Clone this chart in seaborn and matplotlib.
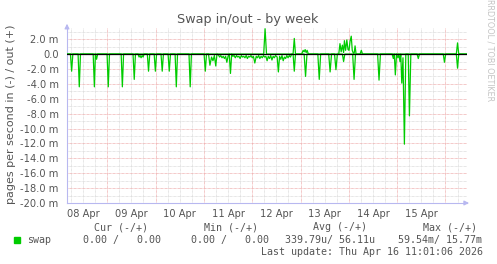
import numpy as np
import pandas as pd
import matplotlib
matplotlib.use("Agg")
import matplotlib.pyplot as plt
import seaborn as sns
from matplotlib.ticker import FixedLocator, FuncFormatter

# ---- data (hours since 08 Apr 00:00) ----
in_hours = [
    4.0, 5.7, 6.3, 6.9, 9.5, 10.1, 10.7, 17.0, 17.6, 18.1, 18.7, 19.2,
    23.9, 24.5, 25.1, 30.9, 31.5, 32.1, 36.8, 37.4, 38.0,
    39.3, 39.8, 40.3, 40.8, 41.3, 41.8, 42.3,
    43.9, 44.5, 45.1, 47.3, 47.9, 48.5, 50.7, 51.3, 51.9, 54.2, 54.8, 55.4,
    57.7, 58.3, 58.9, 64.6, 65.2, 65.8, 72.1, 72.7, 73.3,
    74.3, 75.0, 75.8, 76.5, 77.2, 77.9, 78.5,
    79.2, 79.8, 80.4, 81.0, 81.6, 82.2, 82.8, 83.4, 84.0, 84.6, 85.2, 85.8,
    86.4, 87.0, 87.6, 88.2, 88.8, 89.4, 90.0, 90.6, 91.2, 91.8, 92.4, 93.0,
    93.6, 94.2, 94.8, 95.4, 96.0, 96.6, 97.3, 98.0, 98.6, 99.2, 99.8, 100.4,
    101.0, 101.6, 102.2, 102.8, 103.4, 104.0, 104.6, 105.2, 105.8, 106.4,
    107.0, 107.6, 108.4, 109.0, 109.6, 110.2, 110.8, 111.4, 112.0, 112.6,
    113.2, 113.8, 114.4, 115.0, 115.6, 116.3, 116.9, 117.5,
    121.8, 122.5, 123.2, 128.6, 129.3, 130.0, 134.0, 134.7, 135.4,
    136.9, 137.6, 138.3, 140.8, 141.4, 142.0, 145.9, 146.6, 147.3,
    158.3, 159.0, 159.7,
    165.5, 166.1, 166.6, 167.1, 167.7, 168.4, 168.9, 169.4, 169.8, 170.3,
    170.9, 171.6, 172.3, 173.5, 174.1, 174.8,
    177.9, 178.5, 179.1, 190.9, 191.5, 192.1, 197.4, 198.0, 198.6, 202.7,
]
in_values = [
    0, 0, -2.3, 0, 0, -4.4, 0, 0, -4.4, 0, -0.7, 0,
    0, -4.4, 0, 0, -4.4, 0, 0, -3.4, 0,
    0, -0.4, -0.2, -0.5, -0.2, -0.4, 0,
    0, -2.3, 0, 0, -2.3, 0, 0, -2.3, 0, 0, -2.3, 0,
    0, -4.4, 0, 0, -4.4, 0, 0, -2.3, 0,
    0, -1.5, -0.4, -0.9, -0.2, -1.6, 0,
    -0.1, -0.4, -0.2, -0.5, -0.3, -0.6, -0.3, -1.1, -0.3, 0, -2.6, 0,
    -0.3, -0.2, -0.5, -0.2, -0.4, -0.3, -0.6, -0.2, -0.4, -0.3, -0.5, -0.2,
    -0.6, -0.3, -0.4, -0.2, -0.5, -0.3, -1.2, -0.3, -0.5, -0.2, -0.6, -0.3,
    -0.5, -0.2, -0.4, -0.3, -0.9, -0.3, -0.6, -0.2, -0.8, -0.3,
    -0.5, -0.2, -0.4, -2.4, -0.3, -0.7, -0.2, -0.9, -0.4, -0.6,
    -0.2, -0.5, -0.2, -0.4, 0, 0, -2.3, 0,
    0, -3.0, 0, 0, -3.4, 0, 0, -2.4, 0,
    0, -2.1, 0, 0, -1.0, 0, 0, -3.4, 0,
    0, -3.5, 0,
    0, -0.6, 0, -2.8, 0, -0.5, 0, -1.0, 0, -3.9,
    -0.5, -12.1, 0, 0, -8.3, 0,
    0, -0.6, 0, 0, -1.1, 0, 0, -1.9, 0, 0,
]
out_hours = [
    4.0, 101.7, 102.4, 103.1, 116.3, 116.9, 117.5,
    120.6, 121.3, 121.8, 122.3, 122.8, 123.3, 123.9,
    139.0, 139.6, 140.2, 140.8, 141.4, 141.8, 142.4, 143.0, 143.6, 144.1,
    144.6, 145.2, 145.7, 146.1, 146.6, 147.1, 147.6,
    149.6, 150.2, 150.8, 197.4, 198.0, 198.6, 202.7,
]
out_values = [
    0, 0, 3.4, 0, 0, 2.1, 0,
    0, 0.5, 0.3, 0.6, 0.2, 0.5, 0,
    0, 1.4, 0.3, 1.2, 0.2, 1.8, 0.5, 1.9, 0.6, 0.5,
    1.7, 2.4, 0.5, 0.2, 0, 1.1, 0,
    0, 0.5, 0, 0, 1.5, 0, 0,
]
assert len(in_hours) == len(in_values)
assert len(out_hours) == len(out_values)

day_ticks = [12, 36, 60, 84, 108, 132, 156, 180]
day_labels = ["08 Apr", "09 Apr", "10 Apr", "11 Apr",
              "12 Apr", "13 Apr", "14 Apr", "15 Apr"]
y_ticks = list(range(-20, 3, 2))

legend_heads = ["Cur (-/+)", "Min (-/+)", "Avg (-/+)", "Max (-/+)"]
legend_vals = ["0.00 /   0.00", "0.00 /   0.00", "339.79u/ 56.11u", "59.54m/ 15.77m"]
series_name = "swap"
last_update = "Last update: Thu Apr 16 11:01:06 2026"

# ---- style ----
sns.set_style("white")
plt.rcParams["font.family"] = ["DejaVu Sans"]

W, H = 497, 264
fig = plt.figure(figsize=(W / 100, H / 100), dpi=100)
fig.patch.set_facecolor("white")
ax = fig.add_axes([67 / W, 61 / H, 400 / W, 175 / H])
ax.set_facecolor("white")

XMIN, XMAX = 4.0, 202.7
YMIN, YMAX = -20.0, 3.5
ax.set_xlim(XMIN, XMAX)
ax.set_ylim(YMIN, YMAX)

green = "#00cc00"
red_grid = "#eda6a6"
grey_grid = "#d8d8d8"
dots = (0, (0.72, 0.72))

# grid
for h in np.arange(6, XMAX, 6):
    if h % 24 != 0:
        ax.axvline(h, color=grey_grid, lw=0.65, ls=dots, zorder=1)
for h in np.arange(24, XMAX, 24):
    ax.axvline(h, color=red_grid, lw=0.65, ls=dots, zorder=1.5)
for v in np.arange(-19, YMAX, 2):
    ax.axhline(v, color=grey_grid, lw=0.65, ls=dots, zorder=1)
for v in y_ticks:
    if v != -20:
        ax.axhline(v, color=red_grid, lw=0.65, ls=dots, zorder=1.5)

# data
df_in = pd.DataFrame({"hour": in_hours, "value": in_values})
df_out = pd.DataFrame({"hour": out_hours, "value": out_values})
sns.lineplot(data=df_in, x="hour", y="value", ax=ax, color=green,
             lw=0.9, estimator=None, zorder=3)
sns.lineplot(data=df_out, x="hour", y="value", ax=ax, color=green,
             lw=0.9, estimator=None, zorder=3)
ax.axhline(0, color="black", lw=0.9, zorder=4)

# axes
for s in ["top", "right"]:
    ax.spines[s].set_visible(False)
axis_col = "#b8b8f0"
ax.spines["left"].set_color(axis_col)
ax.spines["bottom"].set_color(axis_col)
ax.spines["left"].set_linewidth(0.8)
ax.spines["bottom"].set_linewidth(0.8)
ax.annotate("", xy=(0, 1.04), xytext=(0, 0.99), xycoords="axes fraction",
            arrowprops=dict(arrowstyle="-|>", color=axis_col, lw=0.8,
                            mutation_scale=7), annotation_clip=False)
ax.annotate("", xy=(1.012, 0), xytext=(0.99, 0), xycoords="axes fraction",
            arrowprops=dict(arrowstyle="-|>", color=axis_col, lw=0.8,
                            mutation_scale=7), annotation_clip=False)

ax.xaxis.set_major_locator(FixedLocator(day_ticks))
ax.set_xticklabels(day_labels)
ax.yaxis.set_major_locator(FixedLocator(y_ticks))
ax.yaxis.set_major_formatter(FuncFormatter(
    lambda v, p: "0.0" if abs(v) < 1e-9 else f"{v:.1f} m"))
ax.tick_params(axis="both", length=0, labelsize=7.1, colors="#555555")
ax.tick_params(axis="y", pad=6)
ax.tick_params(axis="x", pad=4)
ax.set_xlabel("")
ax.set_ylabel("")

# texts
txt = "#555555"
fig.text(248 / W, 1 - 19.5 / H, "Swap in/out - by week", ha="center",
         va="center", fontsize=9.2, color=txt)
fig.text(11 / W, 1 - 114 / H, "pages per second in (-) / out (+)",
         rotation=90, ha="center", va="center", fontsize=8.0, color=txt)
fig.text(490 / W, 1 - 50 / H, "RRDTOOL / TOBI OETIKER", rotation=270,
         ha="center", va="center", fontsize=5.8, color="#c4c4c4")

mono = "DejaVu Sans Mono"
fs = 7.2
head_x = [94.3, 204, 313, 422.7]
for x, t in zip(head_x, legend_heads):
    fig.text(x / W, 1 - 227.3 / H, t, ha="left", va="center",
             fontsize=fs, family=mono, color=txt)
val_x = [83.3, 190.7, 285, 398]
for x, t in zip(val_x, legend_vals):
    fig.text(x / W, 1 - 240 / H, t, ha="left", va="center",
             fontsize=fs, family=mono, color=txt)
fig.text(26.7 / W, 1 - 240 / H, series_name, ha="left", va="center",
         fontsize=fs, family=mono, color=txt)
fig.patches.append(plt.Rectangle((14 / W, 1 - 243 / H), 6 / W, 6 / H,
                                 transform=fig.transFigure, color=green))
fig.text(483 / W, 1 - 251.7 / H, last_update, ha="right", va="center",
         fontsize=fs, family=mono, color=txt)

fig.savefig("out.png", dpi=100)
